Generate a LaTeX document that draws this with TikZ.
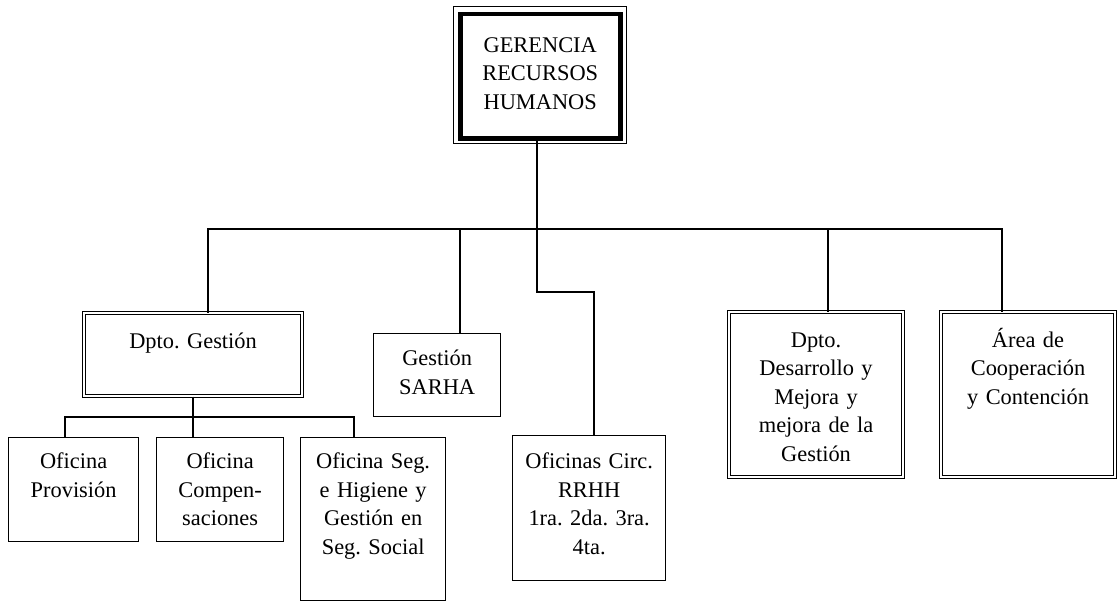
\documentclass[tikz,border=0pt]{standalone}
\usepackage{fontspec}
\setmainfont{Liberation Serif}
\frenchspacing
\tikzset{
  unit/.style = {shape=rectangle, draw, line width=1.3pt, align=center,
                 anchor=north west, inner xsep=2pt, inner ysep=0pt,
                 font=\fontsize{22.4}{28.5}\selectfont},
  dept/.style = {unit, double, double distance=2pt, line width=1.1pt},
  head/.style = {shape=rectangle, draw, line width=4.5pt,
                 anchor=north west, inner xsep=2pt, inner ysep=0pt,
                 font=\fontsize{22.4}{28.5}\selectfont},
  link/.style = {draw, line width=1.3pt}
}
\begin{document}
\begin{tikzpicture}[x=1pt, y=-1pt]
\useasboundingbox (0,0) rectangle (1119,602);

% gerencia
\node[head, text height=38pt, text depth=86pt] (ger) at (458,12)
  {\parbox[t]{156pt}{\centering GERENCIA\\ RECURSOS\\ HUMANOS}\hspace{36pt}};
\draw[line width=1pt] ([shift={(-5,-5)}]ger.north west) rectangle ([shift={(4,3)}]ger.south east);

% second level
\node[dept, text width=214pt, text height=35pt, text depth=48pt] (gest) at (83.5,312.5) {Dpto. Gesti\'on};
\node[unit, text width=123pt, text height=32pt, text depth=51pt] (sarha) at (373,333) {Gesti\'on\\ SARHA};
\node[unit, text width=149pt, text height=33pt, text depth=112pt] (circ) at (512,435)
  {Oficinas Circ.\\ RRHH\\ 1ra. 2da. 3ra.\\ 4ta.};
\node[dept, text width=170pt, text height=35pt, text depth=130pt] (desa) at (728.5,311.5)
  {Dpto.\\ Desarrollo y\\ Mejora y\\ mejora de la\\ Gesti\'on};
\node[dept, text width=170pt, text height=35pt, text depth=130pt] (area) at (940.5,311.5)
  {\'Area de\\ Cooperaci\'on\\ y Contenci\'on};

% oficinas
\node[unit, text width=126pt, text height=31pt, text depth=73pt] (prov) at (8,437) {Oficina\\ Provisi\'on};
\node[unit, text width=123pt, text height=31pt, text depth=73pt] (comp) at (156,437) {Oficina\\ Compen-\\ saciones};
\node[unit, text width=141pt, text height=31pt, text depth=132pt] (seg) at (300,437)
  {Oficina Seg.\\ e Higiene y\\ Gesti\'on en\\ Seg. Social};

\coordinate (hub) at (537,229);
\coordinate (bl) at (208,229);
\coordinate (br) at (1002,229);
\coordinate (ds) at (460,229);
\coordinate (dd) at (828,229);
\coordinate (jog) at (594,292);
\coordinate (sub) at (193,417);
\coordinate (sl) at (65,417);
\coordinate (sr) at (354,417);

\draw[link] (ger.south -| hub) -- (hub);
\draw[link] (bl |- gest.north) -- (bl) -- (br) -- (br |- area.north);
\draw[link] (ds) -- (ds |- sarha.north);
\draw[link] (dd) -- (dd |- desa.north);
\draw[link] (hub) -- (hub |- jog) -- (jog) -- (jog |- circ.north);
\draw[link] (gest.south -| sub) -- (sub |- comp.north);
\draw[link] (sl |- prov.north) -- (sl) -- (sr) -- (sr |- seg.north);
\end{tikzpicture}
\end{document}
